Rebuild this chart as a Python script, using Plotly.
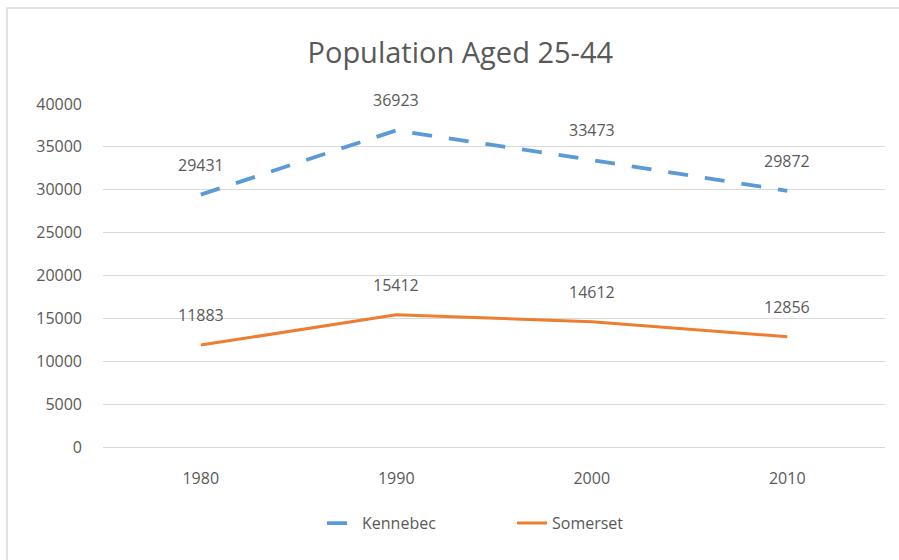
import plotly.graph_objects as go

years = ["1980", "1990", "2000", "2010"]
kennebec = [29431, 36923, 33473, 29872]
somerset = [11883, 15412, 14612, 12856]
y_ticks = [0, 5000, 10000, 15000, 20000, 25000, 30000, 35000, 40000]

BLUE = "#5B9BD5"
ORANGE = "#ED7D31"
GREY = "#595959"
FONT = "Open Sans"

fig = go.Figure()
fig.add_trace(go.Scatter(
    x=years, y=kennebec, name="Kennebec", mode="lines",
    line=dict(color=BLUE, width=3.8, dash="20px,17px"),
))
fig.add_trace(go.Scatter(
    x=years, y=somerset, name="Somerset", mode="lines",
    line=dict(color=ORANGE, width=3),
))

# value labels above each point (category index positions)
for series in (kennebec, somerset):
    for i, v in enumerate(series):
        fig.add_annotation(x=i, y=v, xref="x", yref="y", text=str(v),
                           showarrow=False, yshift=30,
                           font=dict(family=FONT, size=16, color=GREY))

fig.update_layout(
    width=899, height=560,
    margin=dict(l=103, r=14, t=104, b=113),
    paper_bgcolor="white", plot_bgcolor="white",
    title=dict(text="Population Aged 25-44", x=0.512, xanchor="center",
               y=0.905, yanchor="middle",
               font=dict(family=FONT, size=29, color=GREY)),
    xaxis=dict(type="category", range=[-0.5, 3.5], showgrid=False,
               showline=False, ticks="", ticklabelstandoff=20,
               tickfont=dict(family=FONT, size=16, color=GREY)),
    yaxis=dict(range=[0, 40000], tickvals=y_ticks, tickformat="d",
               showgrid=True, gridcolor="#D9D9D9", gridwidth=1,
               zeroline=True, zerolinecolor="#D9D9D9", zerolinewidth=1,
               showline=False, ticks="", ticklabelstandoff=20,
               tickfont=dict(family=FONT, size=16, color=GREY)),
    legend=dict(orientation="h", x=(322 - 103) / 782, xanchor="left",
                y=-0.222, yanchor="middle", entrywidth=145,
                entrywidthmode="pixels",
                font=dict(family=FONT, size=16, color=GREY)),
    showlegend=True,
)

# thin frame around the chart area (right and bottom edges run off the page)
fig.add_shape(type="rect", xref="paper", yref="paper",
              x0=-96/782, x1=1 + 300/782, y0=-300/343, y1=1 + 96/343,
              line=dict(color="#D9D9D9", width=1.5), layer="below")

fig.write_html("out.html")
